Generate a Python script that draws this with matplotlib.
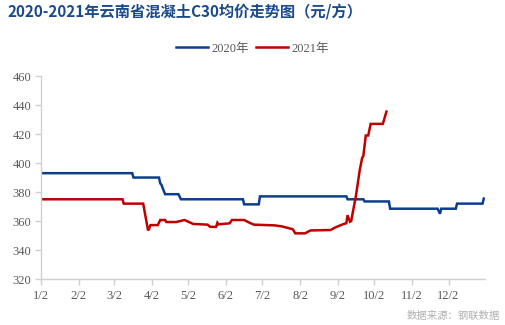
import matplotlib
matplotlib.use("Agg")
import matplotlib.pyplot as plt
import pandas as pd

title = "2020-2021年云南省混凝土C30均价走势图（元/方）"
source = "数据来源：钢联数据"
series_names = ["2020年", "2021年"]

dates_2020 = ["01-02", "03-17", "03-18", "04-08", "04-09", "04-10", "04-13", "04-24",
              "04-26", "06-16", "06-17", "06-29", "06-30", "09-09", "09-10", "09-23",
              "09-24", "10-14", "10-15", "11-23", "11-25", "11-26", "12-08", "12-09",
              "12-30", "12-31"]
values_2020 = [393, 393, 390, 390, 386, 385, 378.5, 378.5,
               375, 375, 371.5, 371.5, 377, 377, 375, 375,
               373.5, 373.5, 368.5, 368.5, 365, 368.5, 368.5, 372,
               372, 375.5]

dates_2021 = ["01-02", "03-09", "03-10", "03-26", "03-30", "03-31", "04-01", "04-07",
              "04-09", "04-13", "04-14", "04-22", "04-29", "05-06", "05-18", "05-20",
              "05-25", "05-26", "05-27", "06-05", "06-07", "06-17", "06-21", "06-25",
              "07-12", "07-18", "07-24", "07-27", "07-29", "08-06", "08-10", "08-11",
              "08-27", "08-31", "09-06", "09-09", "09-10", "09-12", "09-13", "09-17",
              "09-20", "09-22", "09-23", "09-25", "09-27", "09-29", "10-09", "10-12"]
values_2021 = [375, 375, 372, 372, 353.5, 355, 357.2, 357.2,
               360.7, 360.7, 359.3, 359.3, 360.7, 358, 357.5, 356,
               356, 358.8, 357.7, 358.4, 360.7, 360.7, 359, 357.5,
               357, 356.3, 355, 354.3, 351.5, 351.5, 353.3, 353.5,
               353.8, 355.6, 357.7, 358.5, 364, 359.5, 360, 378,
               395, 403.5, 405, 419, 419, 427, 427, 435.5]

month_ticks = ["01-02", "02-02", "03-02", "04-02", "05-02", "06-02", "07-02",
               "08-02", "09-02", "10-02", "11-02", "12-02"]
y_ticks = [320, 340, 360, 380, 400, 420, 440, 460]

def to_dt(lst):
    return pd.to_datetime(["2020-" + d for d in lst])

blue = "#0D3E8E"
red = "#C00000"
grey_axis = "#D0D0D0"
grey_text = "#595959"

fig = plt.figure(figsize=(5.05, 3.25), dpi=100)
ax = fig.add_axes([0.0812, 0.1415, 0.8792, 0.6245])

l1, = ax.plot(to_dt(dates_2020), values_2020, color=blue, lw=1.8, solid_joinstyle="miter")
l2, = ax.plot(to_dt(dates_2021), values_2021, color=red, lw=1.8, solid_joinstyle="miter")

ax.set_xlim(pd.Timestamp("2020-01-02"), pd.Timestamp("2021-01-01"))
ax.set_ylim(320, 460)
ax.set_yticks(y_ticks)
ax.set_yticklabels([str(v) for v in y_ticks])
tick_dt = to_dt(month_ticks)
ax.set_xticks(tick_dt)
ax.set_xticklabels([f"{d.month}/{d.day}" for d in tick_dt])

for s in ["top", "right"]:
    ax.spines[s].set_visible(False)
for s in ["left", "bottom"]:
    ax.spines[s].set_color(grey_axis)
    ax.spines[s].set_linewidth(1.0)
ax.tick_params(axis="both", colors=grey_axis, length=4, width=1.0, direction="out")
for lab in ax.get_xticklabels() + ax.get_yticklabels():
    lab.set_color(grey_text)
    lab.set_fontfamily(["Liberation Serif"])
    lab.set_fontsize(9)
ax.tick_params(axis="x", pad=4)
ax.tick_params(axis="y", pad=3)

fig.text(0.014, 0.962, title, fontsize=11, fontweight="bold", color="#1A4A8C",
         family=["Noto Sans CJK SC", "DejaVu Sans"], va="center", ha="left")

leg = fig.legend([l1, l2], series_names, loc="center", bbox_to_anchor=(0.5, 0.85),
                 ncol=2, frameon=False, handlelength=2.6, handletextpad=0.3,
                 columnspacing=0.5, prop={"family": ["Liberation Serif", "Noto Sans CJK SC"], "size": 9})
for t in leg.get_texts():
    t.set_color(grey_text)

fig.text(0.99, 0.027, source, fontsize=7.5, color="#B0B0B0",
         family=["Noto Sans CJK SC", "DejaVu Sans"], ha="right", va="center")

fig.savefig("out.png", dpi=100)
